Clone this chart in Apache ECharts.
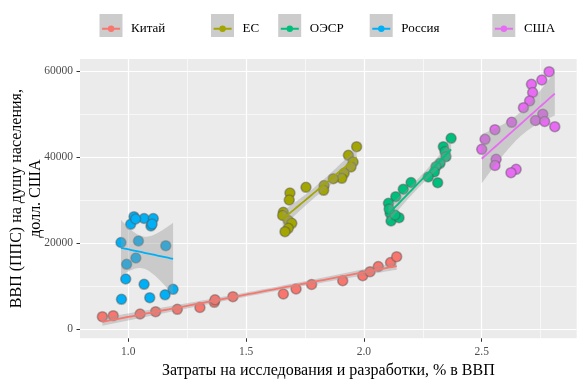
<!DOCTYPE html>
<html><head><meta charset="utf-8">
<script src="https://cdn.jsdelivr.net/npm/echarts@6/dist/echarts.min.js"></script>
<style>html,body{margin:0;padding:0;background:#fff}#c{width:585px;height:385px}</style>
</head><body><div id="c"></div>
<script>
// ---- data ----
const groups = ['Китай', 'ЕС', 'ОЭСР', 'Россия', 'США'];
const colors = ['#F8766D', '#A3A500', '#00BF7D', '#00B0F6', '#E76BF3'];

const chinaX = [0.890, 0.936, 1.050, 1.116, 1.208, 1.304, 1.365, 1.368, 1.444, 1.658, 1.712, 1.778, 1.910, 1.995, 2.026, 2.061, 2.113, 2.139];
const chinaY = [2927, 3159, 3554, 4088, 4646, 5064, 6272, 6853, 7573, 8200, 9362, 10407, 11290, 12451, 13380, 14588, 15518, 16865];

const euX = [1.969, 1.934, 1.954, 1.945, 1.916, 1.906, 1.870, 1.831, 1.829, 1.754, 1.686, 1.683, 1.658, 1.655, 1.679, 1.694, 1.679, 1.665];
const euY = [42418, 40420, 38864, 37701, 36239, 35077, 34984, 33405, 32290, 32987, 31662, 30036, 27179, 26436, 25274, 24624, 23462, 22672];

const oecdX = [2.370, 2.337, 2.344, 2.348, 2.323, 2.306, 2.299, 2.273, 2.313, 2.200, 2.167, 2.135, 2.104, 2.111, 2.115, 2.149, 2.132, 2.107];
const oecdY = [44369, 42418, 41303, 40095, 38562, 37772, 36541, 35380, 34055, 34102, 32545, 30803, 29270, 26947, 25158, 25925, 26552, 27946];

const russiaX = [1.024, 1.010, 1.067, 1.106, 1.096, 0.969, 1.043, 1.159, 1.032, 0.993, 0.989, 1.067, 0.971, 1.091, 1.156, 1.190, 1.031, 1.101];
const russiaY = [26157, 24392, 25739, 25739, 23997, 20164, 20512, 19420, 16563, 15100, 11685, 10454, 6969, 7341, 8014, 9292, 25623, 24461];

const usaX = [2.786, 2.755, 2.711, 2.716, 2.703, 2.677, 2.759, 2.728, 2.767, 2.810, 2.627, 2.556, 2.514, 2.500, 2.561, 2.556, 2.646, 2.624];
const usaY = [59840, 57912, 56914, 55009, 53034, 51478, 49968, 48504, 48272, 47064, 48086, 46367, 44137, 41814, 39491, 38051, 37168, 36378];

const xTicks = [1.0, 1.5, 2.0, 2.5];
const xMinorTicks = [1.25, 1.75, 2.25, 2.75];
const yTicks = [0, 20000, 40000, 60000];
const yMinorTicks = [10000, 30000, 50000];

const xTitle = 'Затраты на исследования и разработки, % в ВВП';
const yTitle = 'ВВП (ППС) на душу населения,\nдолл. США';

// ---- layout / style ----
const FONT = '"Liberation Serif", "DejaVu Serif", serif';
const xMin = 0.795, xMax = 2.903, yMin = -2091, yMax = 62790;
const seriesXs = [chinaX, euX, oecdX, russiaX, usaX];
const seriesYs = [chinaY, euY, oecdY, russiaY, usaY];

const T975 = {14: 2.145, 15: 2.131, 16: 2.120, 17: 2.110, 18: 2.101};
function lmBand(xs, ys) {
  const n = xs.length;
  let mx = 0, my = 0;
  for (let i = 0; i < n; i++) { mx += xs[i]; my += ys[i]; }
  mx /= n; my /= n;
  let sxx = 0, sxy = 0;
  for (let i = 0; i < n; i++) { sxx += (xs[i] - mx) ** 2; sxy += (xs[i] - mx) * (ys[i] - my); }
  const b = sxy / sxx, a = my - b * mx;
  let sse = 0;
  for (let i = 0; i < n; i++) sse += (ys[i] - a - b * xs[i]) ** 2;
  const s = Math.sqrt(sse / (n - 2));
  const t = T975[n - 2] || 2.1;
  const x0 = Math.min(...xs), x1 = Math.max(...xs);
  const out = [];
  const K = 80;
  for (let k = 0; k <= K; k++) {
    const x = x0 + (x1 - x0) * k / K;
    const yh = a + b * x;
    const se = s * Math.sqrt(1 / n + (x - mx) ** 2 / sxx);
    out.push([x, yh - t * se, yh + t * se, yh]);
  }
  return out;
}

const series = [];
groups.forEach((g, i) => {
  series.push({
    name: g, type: 'scatter', z: 2,
    data: seriesXs[i].map((x, j) => [x, seriesYs[i][j]]),
    symbolSize: 10,
    itemStyle: {color: colors[i], borderColor: 'rgba(85,85,85,0.45)', borderWidth: 1.6, opacity: 1}
  });
});
groups.forEach((g, i) => {
  const band = lmBand(seriesXs[i], seriesYs[i]);
  series.push({
    name: g, type: 'custom', z: 3,
    encode: {x: 0, y: [1, 2]},
    data: band.map(d => [d[0], d[1], d[2]]),
    renderItem: (params, api) => {
      if (params.dataIndex !== 0) return null;
      const pts = [];
      for (let k = 0; k < band.length; k++) pts.push(api.coord([band[k][0], band[k][2]]));
      for (let k = band.length - 1; k >= 0; k--) pts.push(api.coord([band[k][0], band[k][1]]));
      return {type: 'polygon', shape: {points: pts}, style: {fill: 'rgba(153,153,153,0.4)'}};
    }
  });
  series.push({
    name: g, type: 'line', z: 4,
    data: band.map(d => [d[0], d[3]]),
    showSymbol: false, symbol: 'none',
    lineStyle: {color: colors[i], width: 1.8}
  });
});

const boxLeft = [99.5, 211, 278.2, 369.7, 492.3];
const ICON = 'path://M0,2.5h18v1.9H0z M9,0.25a3.2,3.2 0 1 1 0,6.4a3.2,3.2 0 1 1 0,-6.4z';
const legends = groups.map((g, i) => ({
  left: boxLeft[i] + 2.6, top: 22.3, padding: 0, orient: 'horizontal',
  itemWidth: 18, itemHeight: 6.65, selectedMode: false,
  data: [{name: g, icon: ICON, itemStyle: {color: colors[i], borderWidth: 0}}],
  textStyle: {fontFamily: FONT, fontSize: 13, color: '#000', padding: [0, 0, 0, 6]}
}));
const graphics = boxLeft.map(l => ({
  type: 'rect', left: l, top: 14, z: -1, silent: true,
  shape: {width: 23, height: 23}, style: {fill: '#CCCCCC'}
}));

const chart = echarts.init(document.getElementById('c'), null, {renderer: 'canvas'});
chart.setOption({
  animation: false,
  backgroundColor: '#ffffff',
  graphic: graphics,
  legend: legends,
  grid: {left: 80, right: 8.3, top: 59, bottom: 46.7, show: true, backgroundColor: '#EBEBEB', borderWidth: 0, containLabel: false, outerBoundsMode: 'none'},
  xAxis: [{
    type: 'value', min: xMin, max: xMax,
    axisLine: {show: false, onZero: false},
    axisTick: {show: true, length: 3.5, lineStyle: {color: '#333333', width: 1}, customValues: xTicks},
    axisLabel: {customValues: xTicks, margin: 8, fontFamily: FONT, fontSize: 11.5, color: '#4D4D4D', formatter: v => v.toFixed(1)},
    splitLine: {show: true, lineStyle: {color: '#ffffff', width: 1.2}},
    name: xTitle, nameLocation: 'middle', nameGap: 24, nameMoveOverlap: false,
    nameTextStyle: {fontFamily: FONT, fontSize: 16, color: '#000'}
  }, {
    type: 'value', min: xMin, max: xMax, position: 'bottom',
    axisLine: {show: false, onZero: false},
    axisTick: {show: false, customValues: xMinorTicks},
    axisLabel: {show: false, customValues: xMinorTicks},
    splitLine: {show: true, lineStyle: {color: '#ffffff', width: 0.6}}
  }],
  yAxis: [{
    type: 'value', min: yMin, max: yMax,
    axisLine: {show: false, onZero: false},
    axisTick: {show: true, length: 3.5, lineStyle: {color: '#333333', width: 1}, customValues: yTicks},
    axisLabel: {customValues: yTicks, margin: 7, fontFamily: FONT, fontSize: 11.5, color: '#4D4D4D', formatter: v => String(v)},
    splitLine: {show: true, lineStyle: {color: '#ffffff', width: 1.2}},
    name: yTitle, nameLocation: 'middle', nameGap: 34.5, nameMoveOverlap: false,
    nameTextStyle: {fontFamily: FONT, fontSize: 16, color: '#000', lineHeight: 19}
  }, {
    type: 'value', min: yMin, max: yMax, position: 'left',
    axisLine: {show: false, onZero: false},
    axisTick: {show: false, customValues: yMinorTicks},
    axisLabel: {show: false, customValues: yMinorTicks},
    splitLine: {show: true, lineStyle: {color: '#ffffff', width: 0.6}}
  }],
  series: series
});
</script></body></html>
